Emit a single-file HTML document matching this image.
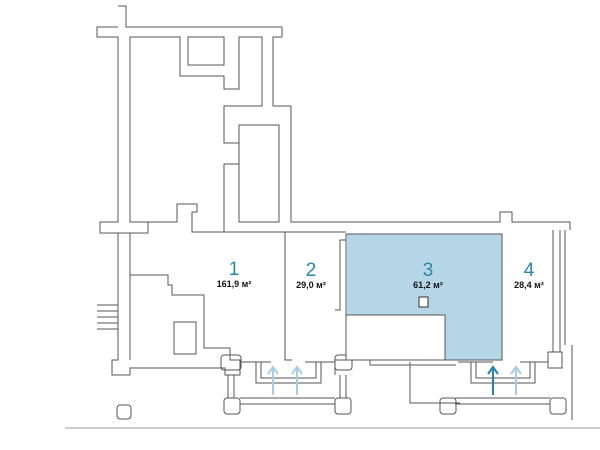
<!DOCTYPE html>
<html><head><style>
html,body{margin:0;padding:0;background:#fff;width:600px;height:450px;overflow:hidden}
text{font-family:"Liberation Sans",sans-serif}
</style></head><body>
<svg width="600" height="450" viewBox="0 0 600 450" xmlns="http://www.w3.org/2000/svg">
<g fill="none" stroke="#555" stroke-width="1">
<path d="M118 6 H126 V27 H282 V37 H273 V106 H291 V222 H500 V212 H512 V222 H570 V230"/>
<path d="M118 27 H97 V37 H118 V222 H100 V233 H148 V222 H130 V37 H180 V76 H224 V89 H239 V37 H262 V106 H224 V143 H239 V164 H224 V232"/>
<rect x="188" y="37" width="36" height="28"/>
<rect x="239" y="125" width="40" height="97"/>
<path d="M148 222 H177 V204 H197 V212 H192 V232 H224"/>
<path d="M224 232 H346"/>
<path d="M118 233 V360 H112 V375 H130 V368 H225 V375 H240 V360 H230 V348 H204 V295 H172 V285 H168 V275 H130"/>
<path d="M130 233 V360"/>
<rect x="174" y="322" width="22" height="32"/>
<path d="M240 362 H271 M305 362 H335"/>
<path d="M285 232 V360 H292"/>
<path d="M335 375 V360 H346 V240 H340 V310 H335"/>
<path d="M346 315 V360 H456"/>
<path d="M346 315 H445 V360"/>
<path d="M370 360 V365 H456"/>
<path d="M553 230 V352 H560 V230"/>
<path d="M548 352 H562 V368 H548 Z"/>
<path d="M458 362 H493 M520 362 H548"/>
<path d="M256 362 V383 H321 V362 M261 362 V378 H316 V362"/>
<path d="M471 362 V383 H535 V362 M476 362 V378 H530 V362"/>
<path d="M410 362 V403 H460"/>
<path d="M228 375 V398 M234 375 V398 M340 375 V398 M346 375 V398"/>
<path d="M240 398 H335 M240 404 H335"/>
<path d="M455 398 H550 M455 404 H550"/>
<rect x="224" y="398" width="16" height="16" rx="3"/>
<rect x="335" y="398" width="16" height="16" rx="3"/>
<rect x="440" y="398" width="16" height="16" rx="3"/>
<rect x="550" y="398" width="16" height="16" rx="3"/>
<rect x="117" y="405" width="14" height="14" rx="3"/>
<rect x="221" y="355" width="20" height="15" rx="3"/>
<rect x="335" y="355" width="17" height="15" rx="3"/>
<path d="M572 345 V420 M565 230 V345"/>
<path d="M97 305 H118 M97 311 H118 M97 317 H118 M97 323 H118 M97 329 H118"/>
</g>
<rect x="347" y="234" width="155" height="126" fill="#b5d6e6"/>
<rect x="346" y="315" width="99" height="45" fill="#fff" stroke="#555"/>
<path d="M346 234 V360 H502 V234 Z" fill="none" stroke="#555"/>
<rect x="419" y="297" width="9" height="10" fill="#fff" stroke="#333"/>
<line x1="65" y1="428" x2="600" y2="428" stroke="#999" stroke-width="1"/>
<g stroke-width="2" fill="none">
<path d="M273 395 V368 M268 374 L273 367 L278 374" stroke="#a7cde0"/>
<path d="M297 395 V368 M292 374 L297 367 L302 374" stroke="#a7cde0"/>
<path d="M493 395 V368 M488 374 L493 367 L498 374" stroke="#2a7fb0"/>
<path d="M516 395 V368 M511 374 L516 367 L521 374" stroke="#a7cde0"/>
</g>
<g fill="#2b87a8" font-size="19" text-anchor="middle">
<text x="234" y="275">1</text><text x="311" y="276">2</text><text x="428" y="276">3</text><text x="529" y="276">4</text>
</g>
<g fill="#111" font-size="9" font-weight="bold" text-anchor="middle">
<text x="234" y="287">161,9 м²</text><text x="311" y="288">29,0 м²</text><text x="428" y="288">61,2 м²</text><text x="529" y="288">28,4 м²</text>
</g>
</svg>
</body></html>
